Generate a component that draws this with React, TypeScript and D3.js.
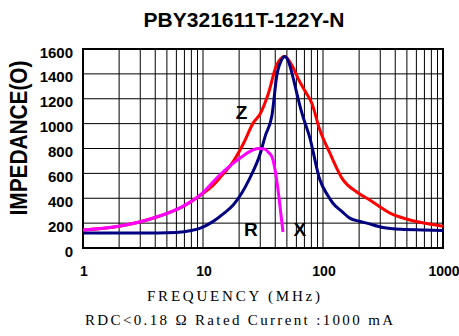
import React, { useEffect, useRef } from 'react';
import * as d3 from 'd3';

const TITLE = 'PBY321611T-122Y-N';
const Y_TICKS = [0, 200, 400, 600, 800, 1000, 1200, 1400, 1600];
const X_TICKS = [1, 10, 100, 1000];

// Z (impedance) — red
const zFreq = [1, 2, 4, 7, 10, 12, 14, 18, 22, 26, 30, 35, 41, 48, 56, 63, 71, 81, 94, 114, 147, 191, 245, 362, 530, 750, 1000];
const zVal = [145, 175, 245, 340, 440, 500, 570, 700, 850, 1000, 1080, 1240, 1470, 1540, 1455, 1350, 1260, 1160, 950, 764, 547, 450, 386, 281, 225, 195, 175];

// X (reactance) — navy
const xFreq = [1, 3, 6, 8, 9.5, 12, 15, 18, 24.5, 30, 33, 37.6, 41.4, 45, 48, 52, 56, 61, 66, 78, 94, 110, 121, 145, 167, 200, 232, 316, 450, 681, 1000];
const xVal = [120, 120, 125, 140, 160, 210, 280, 350, 560, 760, 900, 1070, 1400, 1510, 1540, 1490, 1380, 1230, 1100, 880, 550, 420, 360, 290, 240, 215, 200, 165, 150, 145, 140];

// R (resistance) — magenta
const rFreq = [1, 1.8, 3.4, 6.4, 9.5, 13.8, 20.4, 26, 29, 32.8, 35, 37.6, 40, 42, 44, 46.4];
const rVal = [145, 169, 225, 322, 426, 587, 723, 788, 800, 795, 770, 731, 620, 482, 320, 129];

const SERIES = [
  { name: 'Z', freq: zFreq, val: zVal, color: '#ff0000' },
  { name: 'X', freq: xFreq, val: xVal, color: '#000080' },
  { name: 'R', freq: rFreq, val: rVal, color: '#ff00ff' },
];

const LABELS = [
  { text: 'Z', f: 21, v: 1090 },
  { text: 'R', f: 25, v: 145 },
  { text: 'X', f: 64, v: 145 },
];

export default function App() {
  const svgRef = useRef<SVGSVGElement>(null);
  const width = 459;
  const height = 336;

  useEffect(() => {
    if (!svgRef.current) return;
    const svg = d3.select(svgRef.current);
    svg.selectAll('*').remove();

    const margin = { top: 49, right: 16, bottom: 88, left: 83 };
    const innerWidth = width - margin.left - margin.right;
    const innerHeight = height - margin.top - margin.bottom;

    svg.append('rect').attr('width', width).attr('height', height).attr('fill', '#fff');

    const g = svg.append('g').attr('transform', `translate(${margin.left},${margin.top})`);

    const xScale = d3.scaleLog().domain([1, 1000]).range([0, innerWidth]);
    const yScale = d3.scaleLinear().domain([0, 1600]).range([innerHeight, 0]);

    // grid
    const minor: number[] = [];
    [1, 10, 100].forEach((d) => {
      for (let k = 2; k <= 9; k++) minor.push(d * k);
    });
    [10, 100].forEach((d) => minor.push(d));
    g.append('g')
      .selectAll('line')
      .data(minor)
      .join('line')
      .attr('x1', (d) => xScale(d))
      .attr('x2', (d) => xScale(d))
      .attr('y1', 0)
      .attr('y2', innerHeight)
      .attr('stroke', '#000')
      .attr('stroke-width', 1);

    g.append('g')
      .selectAll('line')
      .data(Y_TICKS.slice(1, -1))
      .join('line')
      .attr('x1', 0)
      .attr('x2', innerWidth)
      .attr('y1', (d) => yScale(d))
      .attr('y2', (d) => yScale(d))
      .attr('stroke', '#000')
      .attr('stroke-width', 1);

    g.append('rect')
      .attr('width', innerWidth)
      .attr('height', innerHeight)
      .attr('fill', 'none')
      .attr('stroke', '#000')
      .attr('stroke-width', 2);

    // curves
    SERIES.forEach((s) => {
      const line = d3
        .line<number>()
        .x((_, i) => xScale(s.freq[i]))
        .y((d) => yScale(d))
        .curve(d3.curveMonotoneX);
      g.append('path')
        .attr('d', line(s.val))
        .attr('fill', 'none')
        .attr('stroke', s.color)
        .attr('stroke-width', 3)
        .attr('stroke-linejoin', 'round');
    });

    // curve labels
    LABELS.forEach((l) => {
      g.append('text')
        .attr('x', xScale(l.f))
        .attr('y', yScale(l.v))
        .attr('text-anchor', 'middle')
        .attr('dominant-baseline', 'central')
        .attr('font-family', 'Liberation Sans, Arial, sans-serif')
        .attr('font-weight', 'bold')
        .attr('font-size', 19)
        .attr('fill', '#000')
        .text(l.text);
    });

    // y tick labels
    g.append('g')
      .selectAll('text')
      .data(Y_TICKS)
      .join('text')
      .attr('x', -10)
      .attr('y', (d) => yScale(d) + 3)
      .attr('text-anchor', 'end')
      .attr('dominant-baseline', 'central')
      .attr('font-family', 'Liberation Sans, Arial, sans-serif')
      .attr('font-weight', 'bold')
      .attr('font-size', 15)
      .attr('fill', '#000')
      .text((d) => d);

    // x tick labels
    g.append('g')
      .selectAll('text')
      .data(X_TICKS)
      .join('text')
      .attr('x', (d) => xScale(d) + 1)
      .attr('y', innerHeight + 28)
      .attr('text-anchor', 'middle')
      .attr('font-family', 'Liberation Sans, Arial, sans-serif')
      .attr('font-weight', 'bold')
      .attr('font-size', 14)
      .attr('fill', '#000')
      .text((d) => d);

    // title
    svg.append('text')
      .attr('x', 244)
      .attr('y', 27)
      .attr('text-anchor', 'middle')
      .attr('font-family', 'Liberation Sans, Arial, sans-serif')
      .attr('font-weight', 'bold')
      .attr('font-size', 21)
      .attr('fill', '#000')
      .text(TITLE);

    // y title
    svg.append('text')
      .attr('transform', 'translate(27,138) rotate(-90)')
      .attr('text-anchor', 'middle')
      .attr('font-family', 'Liberation Sans, Arial, sans-serif')
      .attr('font-weight', 'bold')
      .attr('font-size', 24)
      .attr('textLength', 155)
      .attr('lengthAdjust', 'spacingAndGlyphs')
      .attr('fill', '#000')
      .text('IMPEDANCE(O)');

    // x title and note
    svg.append('text')
      .attr('x', 147)
      .attr('y', 301)
      .attr('font-family', 'Liberation Serif, Times New Roman, serif')
      .attr('font-size', 15)
      .attr('textLength', 173)
      .attr('lengthAdjust', 'spacing')
      .attr('fill', '#000')
      .text('FREQUENCY (MHz)');

    svg.append('text')
      .attr('x', 85)
      .attr('y', 325)
      .attr('font-family', 'Liberation Serif, Times New Roman, serif')
      .attr('font-size', 15)
      .attr('textLength', 308)
      .attr('lengthAdjust', 'spacing')
      .attr('fill', '#000')
      .text('RDC<0.18 Ω Rated Current :1000 mA');
  }, []);

  return (
    <svg
      ref={svgRef}
      width={width}
      height={height}
      style={{ position: 'absolute', left: 0, top: 0, display: 'block' }}
    />
  );
}
